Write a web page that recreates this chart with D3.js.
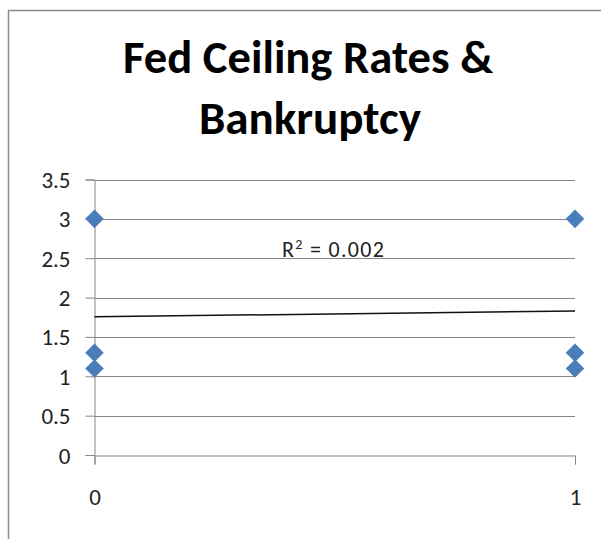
<!DOCTYPE html>
<html><head><meta charset="utf-8">
<script src="https://cdn.jsdelivr.net/npm/d3@7"></script>
<style>html,body{margin:0;padding:0;background:#fff;}</style>
</head><body>
<script>
const titleLines = ["Fed Ceiling Rates &", "Bankruptcy"];
const xValues = [0, 0, 0, 1, 1, 1];
const yValues = [3, 1.3, 1.1, 3, 1.3, 1.1];
const yTicks = [0, 0.5, 1, 1.5, 2, 2.5, 3, 3.5];
const xTicks = [0, 1];
const trendX = [0, 1];
const trendY = [1.755, 1.83];
const r2Label = "0.002";

const W = 601, H = 539;
const svg = d3.select("body").append("svg").attr("width", W).attr("height", H);
const font = "Carlito, Calibri, 'Open Sans', sans-serif";

// outer chart border (extends beyond right/bottom)
svg.append("rect").attr("x", 8.5).attr("y", 10.5).attr("width", 700).attr("height", 700)
  .attr("fill", "none").attr("stroke", "#8c8c8c").attr("stroke-width", 1.5);

const x = d3.scaleLinear().domain([0, 1]).range([94.5, 575]);
const y = d3.scaleLinear().domain([0, 3.5]).range([455, 179.5]);

// gridlines
svg.append("g").selectAll("line").data(yTicks.filter(d => d > 0)).join("line")
  .attr("x1", x(0)).attr("x2", x(1)).attr("y1", d => Math.round(y(d)) + 0.5).attr("y2", d => Math.round(y(d)) + 0.5)
  .attr("stroke", "#868686").attr("stroke-width", 1);

// y axis
const yAxis = d3.axisLeft(y).tickValues(yTicks).tickSize(9).tickPadding(15).tickFormat(d => String(d));
const gy = svg.append("g").attr("transform", `translate(${x(0)},0)`).call(yAxis);
gy.select(".domain").attr("stroke", "#868686");
gy.selectAll(".tick line").attr("stroke", "#868686");
gy.selectAll(".tick text").attr("font-family", font).attr("font-size", 23).attr("fill", "#222").attr("dy", "0.35em");

// x axis
const xAxis = d3.axisBottom(x).tickValues(xTicks).tickSize(9).tickPadding(24).tickFormat(d => String(d));
const gx = svg.append("g").attr("transform", `translate(0,${Math.round(y(0)) + 0.5})`).call(xAxis);
gx.select(".domain").attr("stroke", "#868686");
gx.selectAll(".tick line").attr("stroke", "#868686");
gx.selectAll(".tick text").attr("font-family", font).attr("font-size", 23).attr("fill", "#222");

// trendline
svg.append("line")
  .attr("x1", x(trendX[0])).attr("y1", y(trendY[0]))
  .attr("x2", x(trendX[1])).attr("y2", y(trendY[1]))
  .attr("stroke", "#111").attr("stroke-width", 1.5);

// points
const pts = xValues.map((v, i) => ({x: v, y: yValues[i]}));
svg.append("g").selectAll("path").data(pts).join("path")
  .attr("d", d3.symbol().type(d3.symbolDiamond2).size(220))
  .attr("transform", d => `translate(${x(d.x)},${y(d.y)})`)
  .attr("fill", "#4a7ebb");

// R² label
const lbl = svg.append("text").attr("x", 282).attr("y", 257)
  .attr("font-family", font).attr("font-size", 22).attr("fill", "#222").attr("letter-spacing", 1.3);
lbl.append("tspan").text("R");
lbl.append("tspan").attr("font-size", 14).attr("dy", -8).text("2");
lbl.append("tspan").attr("dy", 8).text(" = " + r2Label);

// title
const t = svg.append("g");
t.append("text").attr("x", 308).attr("y", 73).attr("text-anchor", "middle")
  .attr("font-family", font).attr("font-weight", "bold").attr("font-size", 46).attr("fill", "#000")
  .attr("textLength", 370).attr("lengthAdjust", "spacingAndGlyphs").text(titleLines[0]);
t.append("text").attr("x", 310).attr("y", 134).attr("text-anchor", "middle")
  .attr("font-family", font).attr("font-weight", "bold").attr("font-size", 46).attr("fill", "#000")
  .attr("textLength", 222).attr("lengthAdjust", "spacingAndGlyphs").text(titleLines[1]);
</script>
</body></html>
